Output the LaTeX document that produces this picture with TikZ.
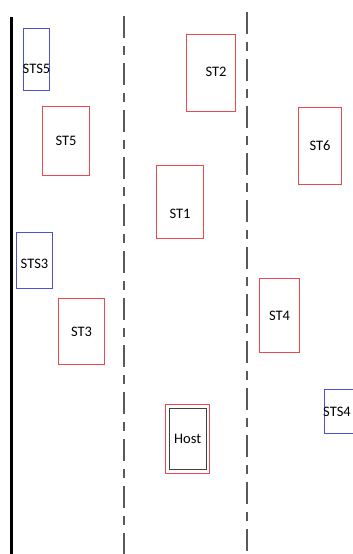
\documentclass[tikz,border=0pt]{standalone}
\usepackage{fontspec}
\setmainfont{Carlito}
\usetikzlibrary{positioning}

\definecolor{carred}{RGB}{236,72,80}
\definecolor{sensblue}{RGB}{80,80,215}

\begin{document}
\begin{tikzpicture}[
        x=1pt, y=-1pt,
        font=\fontsize{14.5}{16}\selectfont,
        car/.style={rectangle, draw=carred, line width=1pt, inner sep=0pt, anchor=north west},
        sensor/.style={rectangle, draw=sensblue, line width=1pt, inner sep=0pt, anchor=north west},
        hostcar/.style={rectangle, draw=black!75, line width=1pt, inner sep=0pt},
        edge/.style={line width=3pt},
        lane/.style={line width=1.3pt, black!65, dash pattern=on 22pt off 8pt on 9pt off 8pt},
      ]
        \useasboundingbox (0,0) rectangle (353,554);

        % road edge and lane markings
        \coordinate (edgetop) at (11,17);
        \coordinate (edgebot) at (11,554);
        \coordinate (laneAtop) at (124,16);
        \coordinate (laneAbot) at (124,554);
        \coordinate (laneBtop) at (247,12);
        \coordinate (laneBbot) at (247,554);
        \draw[edge] (edgetop) -- (edgebot);
        \draw[lane] (laneAtop) -- (laneAbot);
        \draw[lane] (laneBtop) -- (laneBbot);

        % stationary objects
        \node[sensor, minimum width=26pt, minimum height=62pt,
              label={[yshift=-9pt]center:STS5}] (sts5) at (23,28) {};
        \node[sensor, minimum width=36pt, minimum height=56pt,
              label={[yshift=-3pt]center:STS3}] (sts3) at (16,232) {};
        \node[sensor, minimum width=40pt, minimum height=44pt] (sts4) at (324,389) {};
        \node[anchor=west, inner sep=0pt] (sts4txt) at (323,412) {STS4};

        % surrounding cars
        \node[car, minimum width=47pt, minimum height=69pt] (st5) at (42,106) {ST5};
        \node[car, minimum width=49pt, minimum height=77pt,
              label={[xshift=5pt, yshift=1pt]center:ST2}] (st2) at (186,34) {};
        \node[car, minimum width=47pt, minimum height=73pt,
              label={[yshift=-12pt]center:ST1}] (st1) at (156,165) {};
        \node[car, minimum width=43pt, minimum height=77pt] (st6) at (298,107) {ST6};
        \node[car, minimum width=46pt, minimum height=66pt] (st3) at (58,298) {ST3};
        \node[car, minimum width=40pt, minimum height=74pt] (st4) at (259,278) {ST4};

        % host vehicle
        \node[car, line width=1.3pt, minimum width=44pt, minimum height=69pt] (hostbox) at (165,404) {};
        \node[hostcar, minimum width=37pt, minimum height=61pt] (host) at (hostbox.center) {Host};
      \end{tikzpicture}
\end{document}
